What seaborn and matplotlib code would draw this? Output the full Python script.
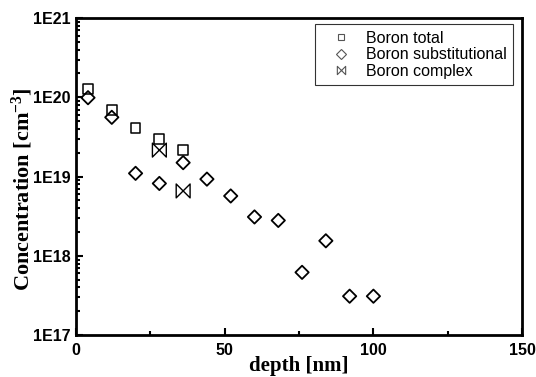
import numpy as np
import pandas as pd
import matplotlib
matplotlib.use("Agg")
import matplotlib.pyplot as plt
from matplotlib.path import Path
from matplotlib.ticker import LogLocator, NullFormatter, MultipleLocator
import seaborn as sns

# Data
total_depth = [4, 12, 20, 28, 36]
total_conc = [1.27e20, 6.9e19, 4.1e19, 2.97e19, 2.16e19]

subst_depth = [4, 12, 20, 28, 36, 44, 52, 60, 68, 76, 84, 92, 100]
subst_conc = [9.9e19, 5.6e19, 1.1e19, 8.2e18, 1.5e19, 9.3e18, 5.7e18,
              3.1e18, 2.8e18, 6.2e17, 1.55e18, 3.1e17, 3.1e17]

complex_depth = [28, 36]
complex_conc = [2.16e19, 6.6e18]

series_names = ["Boron total", "Boron substitutional", "Boron complex"]

y_ticks = [1e17, 1e18, 1e19, 1e20, 1e21]
y_tick_labels = ["1E17", "1E18", "1E19", "1E20", "1E21"]
x_ticks = [0, 50, 100, 150]

sns.set_style("ticks")
plt.rcParams["font.family"] = ["Liberation Sans", "DejaVu Sans"]
plt.rcParams["mathtext.fontset"] = "custom"
plt.rcParams["mathtext.rm"] = "Liberation Serif:bold"
plt.rcParams["mathtext.it"] = "Liberation Serif:bold:italic"
plt.rcParams["mathtext.bf"] = "Liberation Serif:bold"
for key in ["text.color", "axes.labelcolor", "xtick.color", "ytick.color", "axes.edgecolor"]:
    plt.rcParams[key] = "black"

# bowtie with cross, like the original "complex" symbol
bowtie = Path([(-1, -1), (1, 1), (1, -1), (-1, 1), (-1, -1)],
              [Path.MOVETO, Path.LINETO, Path.LINETO, Path.LINETO, Path.CLOSEPOLY])

fig = plt.figure(figsize=(5.36, 3.77), dpi=100)
ax = fig.add_axes([0.142, 0.111, 0.832, 0.841])

# one call per series, each with its own marker and size
sns.scatterplot(x=total_depth, y=total_conc, marker="s", s=50,
                facecolor="none", edgecolor="black", linewidth=1.1, ax=ax)
sns.scatterplot(x=subst_depth, y=subst_conc, marker="D", s=46,
                facecolor="none", edgecolor="black", linewidth=1.3, ax=ax)
sns.scatterplot(x=complex_depth, y=complex_conc, marker=bowtie, s=100,
                facecolor="none", edgecolor="black", linewidth=1.0, ax=ax)

for coll in ax.collections:
    coll.set_facecolor("none")
    coll.set_edgecolor("black")

ax.set_yscale("log")
ax.set_xlim(0, 150)
ax.set_ylim(1e17, 1e21)
ax.set_xticks(x_ticks)
ax.xaxis.set_minor_locator(MultipleLocator(25))
ax.set_yticks(y_ticks)
ax.set_yticklabels(y_tick_labels)
ax.yaxis.set_minor_locator(LogLocator(base=10, subs=np.arange(2, 10)))
ax.yaxis.set_minor_formatter(NullFormatter())

ax.tick_params(which="both", direction="in", top=False, right=False, width=1.5,
               color="black", labelcolor="black")
ax.tick_params(which="major", length=5, labelsize=11.5)
ax.tick_params(which="minor", length=3)
ax.tick_params(axis="y", which="major", pad=4)
ax.tick_params(axis="x", which="major", pad=6)
for lab in ax.get_xticklabels() + ax.get_yticklabels():
    lab.set_fontweight("bold")

for sp in ax.spines.values():
    sp.set_linewidth(2)
    sp.set_color("black")

ax.set_xlabel("depth [nm]", family="Liberation Serif", fontweight="bold",
              fontsize=15, color="black")
ax.xaxis.set_label_coords(0.5, -0.066)
ax.set_ylabel("Concentration [cm$^{-3}$]", family="Liberation Serif",
              fontweight="bold", fontsize=16, color="black")
ax.yaxis.set_label_coords(-0.092, 0.46)

# legend with small grey markers
handles = [
    plt.Line2D([], [], marker="s", ls="none", mfc="none", mec="#555555", ms=5, mew=0.8),
    plt.Line2D([], [], marker="D", ls="none", mfc="none", mec="#555555", ms=5, mew=0.8),
    plt.Line2D([], [], marker=bowtie, ls="none", mfc="none", mec="#555555", ms=6, mew=0.8),
]
leg = ax.legend(handles, series_names, loc="upper right", bbox_to_anchor=(0.980, 0.981),
                borderaxespad=0, fontsize=11.5, frameon=True, fancybox=False,
                edgecolor="black", handletextpad=0.3, borderpad=0.4,
                labelspacing=0.1, handlelength=2.5)
leg.get_frame().set_linewidth(0.8)
for t in leg.get_texts():
    t.set_color("black")

fig.savefig("out.png", dpi=100)
